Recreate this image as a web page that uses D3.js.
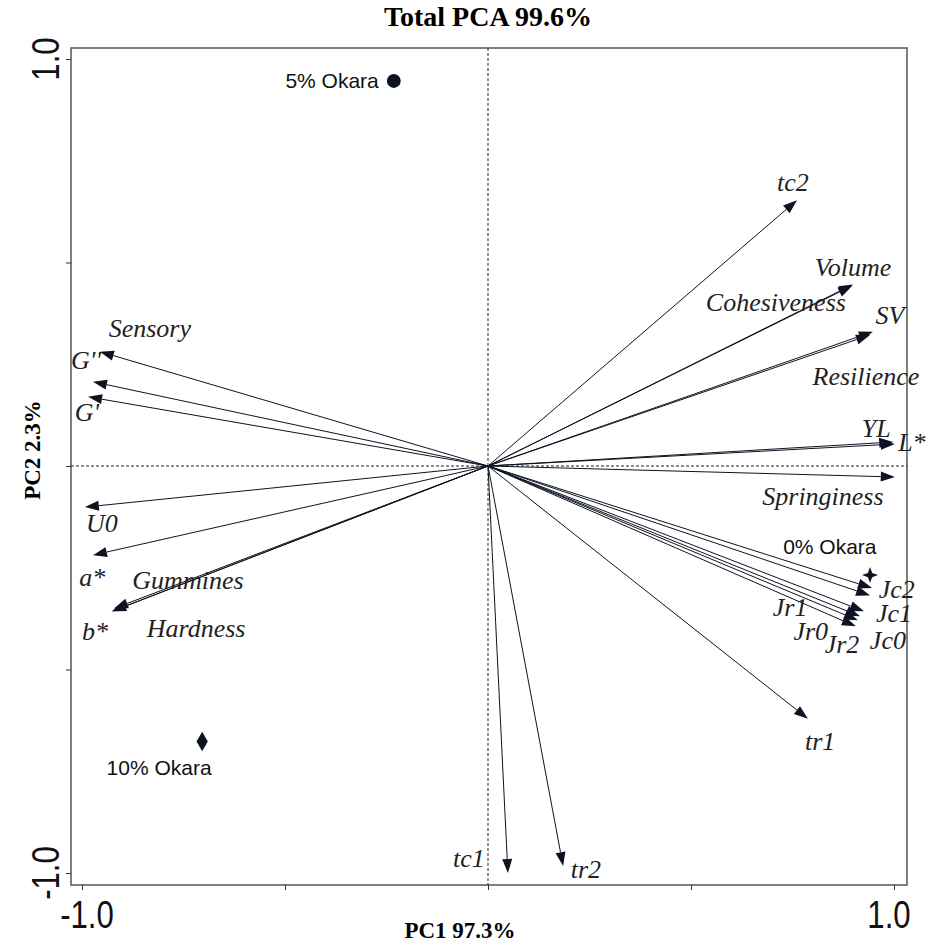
<!DOCTYPE html>
<html>
<head>
<meta charset="utf-8">
<script src="https://cdn.jsdelivr.net/npm/d3@7/dist/d3.min.js"></script>
<style>
  body { margin: 0; background: #fff; }
</style>
</head>
<body>
<svg id="canvas" width="931" height="943"></svg>
<script>
// loadings (arrows)
let varNames = ["tc2", "Volume", "Cohesiveness", "SV", "Resilience", "YL", "L*", "Springiness",
                "Jc2", "Jr1", "Jc1", "Jc0", "Jr0", "Jr2", "tr1", "tr2", "tc1",
                "Sensory", "G''", "G'", "U0", "a*", "Gummines", "Hardness", "b*"]
let varPC1 = [0.761, 0.899, 0.897, 0.948, 0.941, 0.998, 1.002, 1.002,
              0.946, 0.941, 0.926, 0.916, 0.911, 0.906, 0.788, 0.185, 0.049,
              -0.956, -0.973, -0.985, -0.993, -0.973, -0.926, -0.921, -0.926]
let varPC2 = [0.653, 0.446, 0.443, 0.330, 0.322, 0.059, 0.054, -0.027,
              -0.300, -0.318, -0.357, -0.369, -0.379, -0.394, -0.621, -0.983, -1.0,
              0.281, 0.207, 0.170, -0.101, -0.219, -0.357, -0.350, -0.357]
// where the software put each label
let labelPC1 = [0.751, 0.899, 0.709, 0.990, 0.931, 0.956, 1.044, 0.825,
                1.007, 0.744, 1.0, 0.985, 0.795, 0.872, 0.818, 0.241, -0.047,
                -0.833, -0.990, -0.988, -0.951, -0.975, -0.739, -0.719, -0.968]
let labelPC2 = [0.697, 0.488, 0.404, 0.372, 0.222, 0.094, 0.059, -0.074,
                -0.302, -0.345, -0.362, -0.428, -0.404, -0.436, -0.675, -0.990, -0.963,
                0.340, 0.261, 0.133, -0.140, -0.273, -0.281, -0.399, -0.404]

// scores (samples)
let sampleNames = ["0% Okara", "5% Okara", "10% Okara"]
let samplePC1 = [0.941, -0.232, -0.704]
let samplePC2 = [-0.268, 0.946, -0.677]
let sampleLabelPC1 = [0.842, -0.384, -0.810]
let sampleLabelPC2 = [-0.197, 0.946, -0.741]

let tickValues = [-1, -0.5, 0, 0.5, 1]
let tickLabels = ["-1.0", "", "", "", "1.0"]

let canvas = d3.select("#canvas")
let ink = "#0d1321"

let frameLeft = 71, frameRight = 907, frameTop = 48, frameBottom = 885

let xScale = d3.scaleLinear().domain([-1, 1]).range([82, 894])
let yScale = d3.scaleLinear().domain([-1, 1]).range([873, 59])

// frame
canvas.append("rect")
    .attr("x", frameLeft).attr("y", frameTop)
    .attr("width", frameRight - frameLeft).attr("height", frameBottom - frameTop)
    .attr("fill", "none")
    .attr("stroke", "#555")
    .attr("stroke-width", 1.5)

// zero lines
canvas.append("line")
    .attr("x1", xScale(0)).attr("x2", xScale(0))
    .attr("y1", frameTop).attr("y2", frameBottom)
    .attr("stroke", "#222").attr("stroke-width", 1).attr("stroke-dasharray", "3,2")
canvas.append("line")
    .attr("x1", frameLeft).attr("x2", frameRight)
    .attr("y1", yScale(0)).attr("y2", yScale(0))
    .attr("stroke", "#222").attr("stroke-width", 1).attr("stroke-dasharray", "3,2")

// axes
let xAxis = d3.axisBottom(xScale).tickValues(tickValues).tickSize(5).tickFormat("")
let yAxis = d3.axisLeft(yScale).tickValues(tickValues).tickSize(5).tickFormat("")

let gx = canvas.append("g").attr("transform", "translate(0," + frameBottom + ")").call(xAxis)
let gy = canvas.append("g").attr("transform", "translate(" + frameLeft + ",0)").call(yAxis)
gx.select(".domain").remove()
gy.select(".domain").remove()
canvas.selectAll(".tick line").attr("stroke", "#333")

canvas.selectAll(".xlab")
    .data(tickValues.filter((d, i) => tickLabels[i] !== ""))
    .enter()
    .append("text")
    .attr("class", "xlab")
    .attr("transform", d => "translate(" + (xScale(d) + (d < 0 ? 5 : -5)) + ",928) scale(0.8,1)")
    .attr("text-anchor", "middle")
    .style("font-family", "Liberation Sans, Arial, sans-serif")
    .style("font-size", "39px")
    .attr("fill", "#111")
    .text(d => tickLabels[tickValues.indexOf(d)])

canvas.selectAll(".ylab")
    .data(tickValues.filter((d, i) => tickLabels[i] !== ""))
    .enter()
    .append("text")
    .attr("class", "ylab")
    .attr("transform", d => "translate(59," + yScale(d) + ") rotate(-90) scale(0.8,1)")
    .attr("text-anchor", "middle")
    .style("font-family", "Liberation Sans, Arial, sans-serif")
    .style("font-size", "39px")
    .attr("fill", "#111")
    .text(d => tickLabels[tickValues.indexOf(d)])

// titles
let serif = "Liberation Serif, Times New Roman, serif"
canvas.append("text")
    .attr("x", 488).attr("y", 26)
    .attr("text-anchor", "middle")
    .style("font-family", serif).style("font-weight", "bold").style("font-size", "28px")
    .text("Total PCA 99.6%")
canvas.append("text")
    .attr("x", 460).attr("y", 938)
    .attr("text-anchor", "middle")
    .style("font-family", serif).style("font-weight", "bold").style("font-size", "23px")
    .text("PC1 97.3%")
canvas.append("text")
    .attr("transform", "translate(40,450) rotate(-90)")
    .attr("text-anchor", "middle")
    .style("font-family", serif).style("font-weight", "bold").style("font-size", "23px")
    .text("PC2 2.3%")

// arrows
let arrows = canvas.append("g")
varNames.forEach((name, i) => {
    let x0 = xScale(0), y0 = yScale(0)
    let x1 = xScale(varPC1[i]), y1 = yScale(varPC2[i])
    let ang = Math.atan2(y1 - y0, x1 - x0)
    let len = 14, half = 5
    let bx = x1 - len * Math.cos(ang), by = y1 - len * Math.sin(ang)
    arrows.append("line")
        .attr("x1", x0).attr("y1", y0)
        .attr("x2", bx).attr("y2", by)
        .attr("stroke", ink).attr("stroke-width", 1)
    arrows.append("path")
        .attr("d", "M" + x1 + "," + y1 +
                   "L" + (bx + half * Math.sin(ang)) + "," + (by - half * Math.cos(ang)) +
                   "L" + (bx - half * Math.sin(ang)) + "," + (by + half * Math.cos(ang)) + "Z")
        .attr("fill", ink)
})

canvas.selectAll(".varlab")
    .data(varNames)
    .enter()
    .append("text")
    .attr("class", "varlab")
    .attr("x", (d, i) => xScale(labelPC1[i]))
    .attr("y", (d, i) => yScale(labelPC2[i]))
    .attr("dy", "0.35em")
    .attr("text-anchor", "middle")
    .style("font-family", serif).style("font-style", "italic").style("font-size", "26px")
    .attr("fill", "#222")
    .text(d => d)

// samples
let star4 = d3.lineRadial().curve(d3.curveLinearClosed)
    .angle((d, i) => i * Math.PI / 4)
    .radius((d, i) => i % 2 === 0 ? 8 : 3)
let shapes = [
    star4([0, 1, 2, 3, 4, 5, 6, 7]),
    d3.symbol(d3.symbolCircle, 150)(),
    d3.symbol(d3.symbolDiamond, 110)()
]
canvas.selectAll(".sample")
    .data(sampleNames)
    .enter()
    .append("path")
    .attr("class", "sample")
    .attr("transform", (d, i) => "translate(" + xScale(samplePC1[i]) + "," + yScale(samplePC2[i]) + ")")
    .attr("d", (d, i) => shapes[i])
    .attr("fill", ink)

canvas.selectAll(".samplelab")
    .data(sampleNames)
    .enter()
    .append("text")
    .attr("class", "samplelab")
    .attr("x", (d, i) => xScale(sampleLabelPC1[i]))
    .attr("y", (d, i) => yScale(sampleLabelPC2[i]))
    .attr("dy", "0.35em")
    .attr("text-anchor", "middle")
    .style("font-family", "Liberation Sans, Arial, sans-serif").style("font-size", "21px")
    .attr("fill", "#111")
    .text(d => d)
</script>
</body>
</html>
